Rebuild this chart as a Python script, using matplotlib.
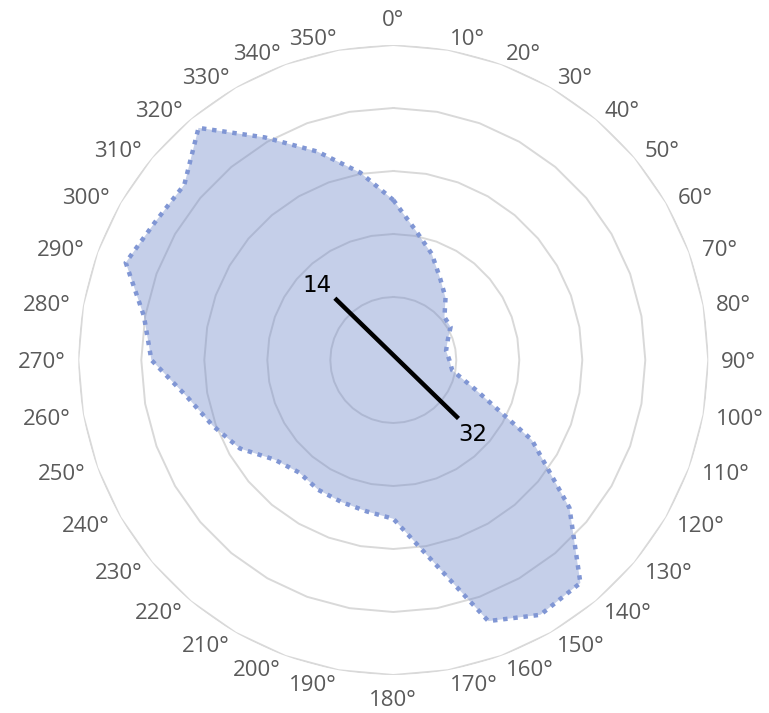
import numpy as np
import matplotlib
matplotlib.use("Agg")
import matplotlib.pyplot as plt

# ---- data ----
angles_deg = [0, 10, 20, 30, 40, 50, 60, 70, 80, 90, 100, 110, 120, 130, 140, 150, 160, 170,
              180, 190, 200, 210, 220, 230, 240, 250, 260, 270, 280, 290, 300, 310, 320, 330, 340, 350]
values = [25.4, 20.8, 17.9, 14.9, 12.9, 10.6, 10.5, 9.2, 8.5, 8.9, 9.5, 14.0, 25.4, 36.5, 46.2, 46.7, 44.1, 31.6,
          25.2, 24.4, 24.0, 23.8, 23.3, 24.6, 28.1, 30.5, 33.3, 38.4, 40.2, 45.2, 43.7, 43.3, 48.1, 40.8, 35.2, 30.2]
tick_labels = [f"{a}°" for a in angles_deg]
ring_values = [10, 20, 30, 40, 50]
line_theta = [316.6, 131.9]
line_r = [13.5, 13.9]
line_labels = ["14", "32"]

W, H, DPI = 769, 713, 100
fig = plt.figure(figsize=(W / DPI, H / DPI), dpi=DPI)
cx, cy, R = 393.3, 360.0, 315.0
ax = fig.add_axes([(cx - R) / W, (H - cy - R) / H, 2 * R / W, 2 * R / H], projection="polar")
ax.set_theta_zero_location("N")
ax.set_theta_direction(-1)
ax.set_ylim(0, ring_values[-1])
ax.grid(False)
ax.set_xticks([])
ax.set_yticks([])
ax.spines["polar"].set_visible(False)
ax.patch.set_alpha(0)

th = np.deg2rad(angles_deg + [angles_deg[0]])
# polygon grid rings
for rv in ring_values:
    ax.plot(th, [rv] * len(th), color="#d9d9d9", lw=1.4, zorder=1)

vals = values + [values[0]]
ax.fill(th, vals, color="#6f87c9", alpha=0.4, lw=0, zorder=2)
ax.plot(th, vals, color="#8096d4", lw=3.2, linestyle=(0, (1, 1.3)), zorder=3)

# black segment with end labels
lt = np.deg2rad(line_theta)
ax.plot(lt, line_r, color="black", lw=3.2, solid_capstyle="butt", zorder=5)
offs = [(-17.7, 12.5), (14.4, -16.0)]
for t, r, lab, (dx, dy) in zip(lt, line_r, line_labels, offs):
    ax.annotate(lab, xy=(t, r), xytext=(dx, dy), textcoords="offset pixels",
                ha="center", va="center", fontsize=16.5, color="black",
                family="DejaVu Sans", zorder=6)

# angle labels placed outside the rings
for a, lab in zip(angles_deg, tick_labels):
    s, c = np.sin(np.deg2rad(a)), np.cos(np.deg2rad(a))
    if a == 0:
        ha, D = "center", 342.0
    elif a == 180:
        ha, D = "center", 338.0
    elif a < 180:
        ha, D = "left", 328.0
    else:
        ha, D = "right", 328.0
    px = cx + D * s
    py_svg = cy - D * c + 8.0
    fig.text(px / W, (H - py_svg) / H, lab, fontsize=16, color="#5a5a5a",
             family="Open Sans", ha=ha, va="baseline")

fig.savefig("out.png", dpi=DPI)
